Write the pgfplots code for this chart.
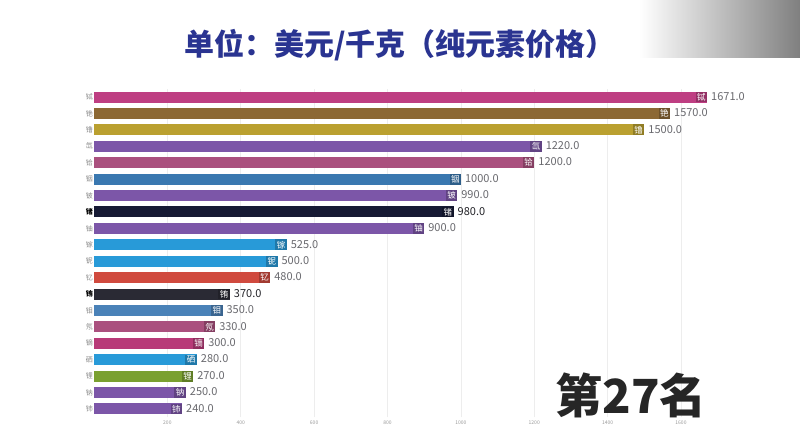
\documentclass[border=0pt]{standalone}
\usepackage{pgfplots}
\pgfplotsset{compat=1.18}
\usepackage{fontspec}
\setmainfont{Noto Sans CJK SC}
\usetikzlibrary{fadings}

\definecolor{titleblue}{RGB}{42,52,145}
\definecolor{valgray}{RGB}{105,105,110}
\definecolor{valdark}{RGB}{35,35,40}
\definecolor{cMag}{RGB}{190,62,130}
\definecolor{cBrown}{RGB}{140,104,52}
\definecolor{cMustard}{RGB}{186,160,48}
\definecolor{cPurple}{RGB}{124,86,168}
\definecolor{cRose}{RGB}{170,80,126}
\definecolor{cSteel}{RGB}{58,120,176}
\definecolor{cNavy}{RGB}{22,26,52}
\definecolor{cSky}{RGB}{40,154,216}
\definecolor{cRed}{RGB}{208,74,62}
\definecolor{cDark}{RGB}{42,42,52}
\definecolor{cSteelB}{RGB}{74,130,184}
\definecolor{cPink}{RGB}{184,58,120}
\definecolor{cGreen}{RGB}{122,160,48}

\setlength\fboxsep{1.5pt}

% one bar: y position, value, element, bar colour, value colour
\newcommand\elbar[5]{%
  \addplot[fill=#4, draw=none, point meta=x,
    nodes near coords={\llap{\colorbox{#4!78!black}{\textcolor{white}{\fontsize{8.5}{8.5}\selectfont #3}}}\hspace{4pt}\textcolor{#5}{\pgfmathprintnumber[fixed,fixed zerofill,precision=1]{\pgfplotspointmeta}}}]
    coordinates {(#2,#1)};
}

\begin{document}
\begin{tikzpicture}[x=1pt,y=1pt]
\path[use as bounding box, fill=white] (0,0) rectangle (800,440);

\begin{axis}[
  at={(94pt,22.8pt)}, anchor=south west,
  scale only axis, width=642pt, height=328.4pt,
  xbar, bar width=11pt,
  every axis plot/.append style={bar shift=0pt},
  xmin=0, xmax=1750, ymin=0.5, ymax=20.5,
  axis line style={draw=none},
  major tick length=0pt,
  xmajorgrids, grid style={draw=black!7, line width=0.6pt},
  xtick={200,400,...,1600},
  /pgf/number format/assume math mode=true,
  /pgf/number format/1000 sep={},
  xticklabel style={font=\fontsize{5}{5}\selectfont, text=black!40},
  ytick={1,...,20},
  yticklabels={铈,钠,锂,硒,镝,氖,钼,{\textcolor{black}{\bfseries 铕}},钇,铌,镓,铀,{\textcolor{black}{\bfseries 锗}},铍,铟,铪,氙,镥,铯,铽},
  yticklabel style={font=\fontsize{7}{7}\selectfont, text=black!45, inner xsep=1pt},
  nodes near coords style={font=\fontsize{11}{11}\selectfont, inner xsep=0pt, anchor=west},
  clip=false,
]
\elbar{20}{1671}{铽}{cMag}{valgray}
\elbar{19}{1570}{铯}{cBrown}{valgray}
\elbar{18}{1500}{镥}{cMustard}{valgray}
\elbar{17}{1220}{氙}{cPurple}{valgray}
\elbar{16}{1200}{铪}{cRose}{valgray}
\elbar{15}{1000}{铟}{cSteel}{valgray}
\elbar{14}{990}{铍}{cPurple}{valgray}
\elbar{13}{980}{锗}{cNavy}{valdark}
\elbar{12}{900}{铀}{cPurple}{valgray}
\elbar{11}{525}{镓}{cSky}{valgray}
\elbar{10}{500}{铌}{cSky}{valgray}
\elbar{9}{480}{钇}{cRed}{valgray}
\elbar{8}{370}{铕}{cDark}{valdark}
\elbar{7}{350}{钼}{cSteelB}{valgray}
\elbar{6}{330}{氖}{cRose}{valgray}
\elbar{5}{300}{镝}{cPink}{valgray}
\elbar{4}{280}{硒}{cSky}{valgray}
\elbar{3}{270}{锂}{cGreen}{valgray}
\elbar{2}{250}{钠}{cPurple}{valgray}
\elbar{1}{240}{铈}{cPurple}{valgray}
\end{axis}

\node[font=\fontsize{30}{30}\selectfont\bfseries, text=titleblue] at (400,395) {单位：美元/千克（纯元素价格）};
\node[font=\fontsize{47}{47}\selectfont\bfseries, text=black!85] at (631,45) {第27名};

\fill[black!50, path fading=west] (640,382) rectangle (800,440);
\end{tikzpicture}
\end{document}
